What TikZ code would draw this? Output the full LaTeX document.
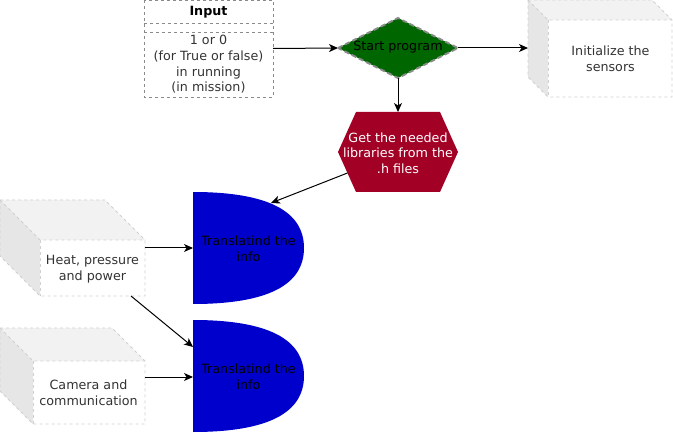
\documentclass[tikz,border=0pt]{standalone}
\usepackage{fontspec}
\setmainfont{DejaVu Sans}
\usetikzlibrary{shapes.geometric,arrows.meta,calc}
\definecolor{dgreen}{HTML}{006600}
\definecolor{crimsonred}{HTML}{A20025}
\definecolor{dblue}{HTML}{0000CC}
\definecolor{txtgray}{HTML}{333333}
\definecolor{bordergray}{HTML}{8A8A8A}
\definecolor{cubeline}{HTML}{D0D0D0}
\definecolor{cubetop}{HTML}{F2F2F2}
\definecolor{cubeside}{HTML}{E6E6E6}
\newcommand{\drawcube}[5]{%
  \fill[cubetop] ({#1},{#2}) -- ({#3-#5},{#2}) -- ({#3},{#2+#5}) -- ({#1+#5},{#2+#5}) -- cycle;
  \fill[cubeside] ({#1},{#2}) -- ({#1+#5},{#2+#5}) -- ({#1+#5},{#4}) -- ({#1},{#4-#5}) -- cycle;
  \fill[white] ({#1+#5},{#2+#5}) rectangle ({#3},{#4});
  \draw[cubedash] ({#1},{#2}) -- ({#3-#5},{#2}) -- ({#3},{#2+#5}) -- ({#3},{#4}) -- ({#1+#5},{#4}) -- ({#1},{#4-#5}) -- cycle;
  \draw[cubedash] ({#1},{#2}) -- ({#1+#5},{#2+#5}) -- ({#3},{#2+#5});
  \draw[cubedash] ({#1+#5},{#2+#5}) -- ({#1+#5},{#4});
}
\newcommand{\drawdshape}[4]{% x0 y0 w h
  \fill[dblue] ({#1},{#2}) .. controls ({#1+2*#3/3},{#2}) and ({#1+#3},{#2+#4/6}) .. ({#1+#3},{#2+#4/2})
     .. controls ({#1+#3},{#2+5*#4/6}) and ({#1+2*#3/3},{#2+#4}) .. ({#1},{#2+#4}) -- cycle;
}
\begin{document}
\begin{tikzpicture}[x=1pt,y=-1pt,
  lbl/.style={font=\fontsize{12.7}{15.6}\selectfont, align=center, inner sep=0pt, outer sep=0pt},
  hit/.style={inner sep=0pt, outer sep=0pt},
  arr/.style={-{Stealth[length=9pt,width=8pt,inset=2.5pt]}, line width=1pt, black},
  cubedash/.style={draw=cubeline, line width=0.8pt, dash pattern=on 3pt off 3pt},
  tabdash/.style={draw=bordergray, line width=0.8pt, dash pattern=on 3pt off 3pt},
]
\useasboundingbox (0,0) rectangle (673,433);

% Input table
\node[hit, minimum width=129pt, minimum height=97pt] (inp) at (208.5,48.5) {};
\draw[tabdash] (inp.north west) rectangle (inp.south east);
\draw[tabdash] (144,23) -- (273,23);
\draw[tabdash] (144,32) -- (273,32);
\node[lbl, font=\fontsize{12.7}{15.6}\selectfont\bfseries] (inph) at (208.5,12) {Input};
\node[lbl, text=txtgray] (inpb) at (208.5,64.5) {1 or 0\\(for True or false)\\in running\\(in mission)};

% Start diamond
\filldraw[fill=dgreen, draw=bordergray, line width=1.8pt, dash pattern=on 5pt off 3pt]
  (338,48) -- (398,18) -- (458,48) -- (398,78) -- cycle;
\node[hit, minimum width=120pt, minimum height=60pt] (start) at (398,48) {};
\node[lbl, text=black] (startt) at (398,47) {Start program};

% Initialize cube
\drawcube{528}{0}{672}{97}{20}
\node[hit, minimum width=144pt, minimum height=97pt] (init) at (600,48.5) {};
\node[lbl, text=txtgray] (initt) at (610.5,58.5) {Initialize the\\sensors};

% Hexagon
\fill[crimsonred] (356,112) -- (440,112) -- (458,152) -- (440,192) -- (356,192) -- (338,152) -- cycle;
\node[hit, minimum width=120pt, minimum height=80pt] (lib) at (398,152) {};
\node[lbl, text=white] (libt) at (398,153) {Get the needed\\libraries from the\\.h files};

% D shapes
\drawdshape{193}{192}{111}{112}
\drawdshape{193}{320}{111}{112}
\node[hit, minimum width=111pt, minimum height=112pt] (d1) at (248.5,248) {};
\node[hit, minimum width=111pt, minimum height=112pt] (d2) at (248.5,376) {};
\node[lbl, text=black] (d1t) at (248.5,248.5) {Translatind the\\info};
\node[lbl, text=black] (d2t) at (248.5,376.5) {Translatind the\\info};

% Left cubes
\drawcube{0}{200}{145}{296}{40}
\node[hit, minimum width=145pt, minimum height=96pt] (c1) at (72.5,248) {};
\node[lbl, text=txtgray] (c1t) at (92.5,269) {Heat, pressure\\and power};
\drawcube{0}{328}{145}{424}{33}
\node[hit, minimum width=145pt, minimum height=96pt] (c2) at (72.5,377) {};
\node[lbl, text=txtgray] (c2t) at (88.5,392.5) {Camera and\\communication};

% connector end points
\coordinate (libout) at (347.5,173);
\coordinate (d1in) at (271,203);
\coordinate (c1out) at (131,296);
\coordinate (d2in) at (193,347);

% Connectors
\draw[arr] (inp.east) -- (start.west);
\draw[arr] (start.east) -- (start.east -| init.west);
\draw[arr] (start.south) -- (lib.north);
\draw[arr] (libout) -- (d1in);
\draw[arr] (c1.east) -- (d1.west);
\draw[arr] (c1out) -- (d2in);
\draw[arr] (c2.east) -- (c2.east -| d2.west);
\end{tikzpicture}
\end{document}
